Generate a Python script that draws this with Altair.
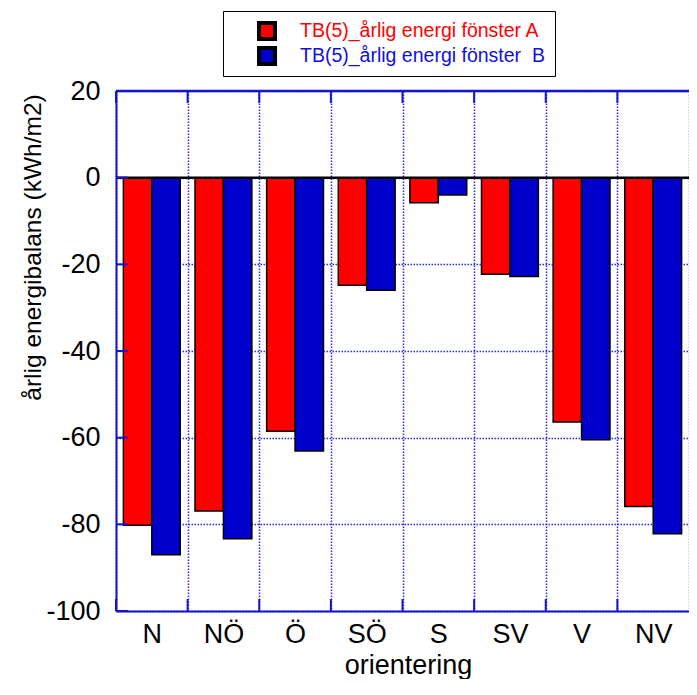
import altair as alt
import pandas as pd

categories = ["N", "NÖ", "Ö", "SÖ", "S", "SV", "V", "NV"]
series_a = [-80.2, -76.9, -58.5, -24.8, -5.8, -22.3, -56.4, -75.9]
series_b = [-87.0, -83.3, -63.1, -26.0, -4.0, -22.8, -60.5, -82.2]
series_names = ["TB(5)_årlig energi fönster A", "TB(5)_årlig energi fönster\u00a0 B"]
series_colors = ["#ff0000", "#0000cc"]
legend_text_colors = ["#ff0000", "#1010dd"]
y_ticks = [-100, -80, -60, -40, -20, 0, 20]

rows = []
for c, a, b in zip(categories, series_a, series_b):
    rows.append({"orientering": c, "serie": series_names[0], "v": a})
    rows.append({"orientering": c, "serie": series_names[1], "v": b})
df = pd.DataFrame(rows)

FONT = "Liberation Sans"
AXIS_BLUE = "#1414cc"
GRID_BLUE = "#2a2aee"
Y_MIN, Y_MAX = -100, 20
TICK_UNITS = 2.75

xscale = alt.Scale(domain=categories, paddingInner=0, paddingOuter=0)
yscale = alt.Scale(domain=[Y_MIN, Y_MAX], nice=False, zero=False)

label_color_expr = "datum.index === 0 ? '%s' : '%s'" % (
    legend_text_colors[0], legend_text_colors[1])

bars = alt.Chart(df).mark_bar(stroke="black", strokeWidth=1.5).encode(
    x=alt.X("orientering:N", scale=xscale, sort=categories, axis=alt.Axis(
        title="orientering", titleFontSize=27, titleFont=FONT, titleColor="black",
        titleFontWeight="normal", titleY=62, titleX=292, titleBaseline="alphabetic",
        labelFont=FONT, labelFontSize=27, labelColor="black", labelAngle=0,
        labelBaseline="alphabetic", labelPadding=31,
        ticks=False, tickSize=0, tickBand="extent",
        domainColor=AXIS_BLUE, domainWidth=2,
        grid=True, gridColor=GRID_BLUE, gridDash=[1.5, 1.5], gridWidth=1.5)),
    xOffset=alt.XOffset("serie:N", sort=series_names,
                        scale=alt.Scale(domain=series_names, paddingOuter=0.26, paddingInner=0)),
    y=alt.Y("v:Q", scale=yscale, axis=alt.Axis(
        values=y_ticks, title="årlig energibalans (kWh/m2)", titleFont=FONT,
        titleFontSize=24.5, titleFontWeight="normal", titleColor="black",
        titleX=-83, titleY=156, titleAngle=270, titleAlign="center", titleBaseline="middle",
        labelFont=FONT, labelFontSize=27, labelColor="black", labelPadding=16,
        labelExpr="datum.value < 0 ? '-' + abs(datum.value) : '' + datum.value",
        ticks=False, tickSize=0, domainColor=AXIS_BLUE, domainWidth=2,
        grid=True, gridColor=GRID_BLUE, gridDash=[1.5, 1.5], gridWidth=1.5)),
    y2=alt.datum(0),
    color=alt.Color("serie:N", sort=series_names,
                    scale=alt.Scale(domain=series_names, range=series_colors),
                    legend=alt.Legend(
                        orient="none", legendX=107, legendY=-80, title=None, direction="vertical",
                        symbolType="square", symbolSize=256, symbolStrokeColor="black",
                        symbolStrokeWidth=4, symbolOffset=24,
                        labelFont=FONT, labelFontSize=19.5, labelOffset=23,
                        labelColor={"expr": label_color_expr}, labelLimit=400,
                        clipHeight=20, padding=10, rowPadding=5,
                        strokeColor="black", fillColor="white")),
)

zero_line = alt.Chart(pd.DataFrame({"k": [0]})).mark_rule(color="black", strokeWidth=2.5).encode(
    y=alt.datum(0))

top_border = alt.Chart(pd.DataFrame({"k": [0]})).mark_rule(color=AXIS_BLUE, strokeWidth=2.5).encode(
    y=alt.datum(Y_MAX))

cat_df = pd.DataFrame({"orientering": categories})
top_ticks = alt.Chart(cat_df).mark_rule(color=AXIS_BLUE, strokeWidth=2).encode(
    x=alt.X("orientering:N", bandPosition=0, sort=categories),
    y=alt.datum(Y_MAX), y2=alt.datum(Y_MAX - TICK_UNITS))
bottom_ticks = alt.Chart(cat_df).mark_rule(color=AXIS_BLUE, strokeWidth=2).encode(
    x=alt.X("orientering:N", bandPosition=0, sort=categories),
    y=alt.datum(Y_MIN), y2=alt.datum(Y_MIN + TICK_UNITS))
left_ticks = alt.Chart(pd.DataFrame({"v": y_ticks})).mark_rule(color=AXIS_BLUE, strokeWidth=2).encode(
    y="v:Q", x=alt.value(0), x2=alt.value(12))

chart = alt.layer(bars, zero_line, top_border, top_ticks, bottom_ticks, left_ticks).properties(
    width=573, height=520,
    autosize=alt.AutoSizeParams(type="none"),
    padding={"left": 108, "top": 83, "right": 0, "bottom": 68},
    background="white",
).configure_view(stroke=None)

chart.save("out.html", embed_options={"renderer": "svg", "actions": False})
